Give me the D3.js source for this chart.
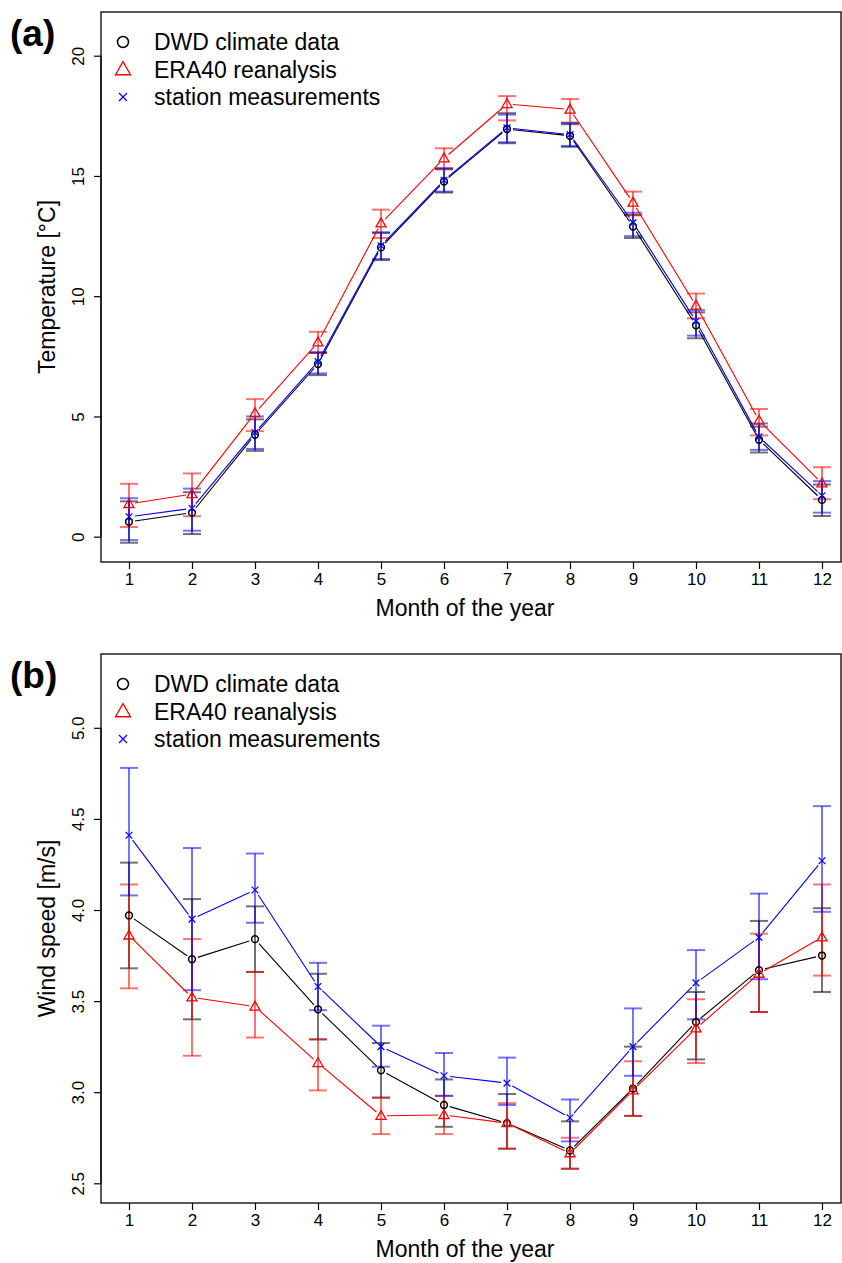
<!DOCTYPE html>
<html>
<head>
<meta charset="utf-8">
<script src="https://cdn.jsdelivr.net/npm/d3@7"></script>
<style>
  body { margin: 0; background: #fff; }
  text { font-family: "Liberation Sans", Arial, sans-serif; }
</style>
</head>
<body>
<svg id="chart" width="842" height="1263"></svg>
<script>
'use strict';

const months = [1, 2, 3, 4, 5, 6, 7, 8, 9, 10, 11, 12];
const seriesNames = ['DWD climate data', 'ERA40 reanalysis', 'station measurements'];

// (a) temperature
const tempTicks = [0, 5, 10, 15, 20];
const tempDwd    = [0.62, 1.00, 4.24, 7.18, 12.03, 14.77, 16.95, 16.67, 12.90, 8.79, 4.03, 1.53];
const tempDwdLo  = [-0.25, 0.11, 3.57, 6.72, 11.50, 14.31, 16.36, 16.21, 12.42, 8.25, 3.50, 0.86];
const tempDwdHi  = [1.47, 1.85, 4.88, 7.64, 12.63, 15.29, 17.61, 17.15, 13.38, 9.33, 4.58, 2.17];
const tempEra    = [1.36, 1.77, 5.14, 8.08, 13.03, 15.73, 17.99, 17.76, 13.89, 9.61, 4.83, 2.22];
const tempEraLo  = [0.40, 0.85, 4.39, 7.64, 12.42, 15.27, 17.31, 17.22, 13.36, 9.08, 4.21, 1.56];
const tempEraHi  = [2.20, 2.63, 5.72, 8.52, 13.60, 16.15, 18.32, 18.20, 14.35, 10.11, 5.31, 2.89];
const tempSta    = [0.83, 1.18, 4.33, 7.28, 12.10, 14.82, 17.00, 16.72, 13.06, 8.96, 4.15, 1.70];
const tempStaLo  = [-0.14, 0.25, 3.65, 6.79, 11.55, 14.35, 16.40, 16.25, 12.50, 8.36, 3.61, 1.00];
const tempStaHi  = [1.60, 2.00, 5.00, 7.68, 12.66, 15.33, 17.55, 17.20, 13.47, 9.42, 4.71, 2.31];

// (b) wind speed
const windTicks = [2.5, 3.0, 3.5, 4.0, 4.5, 5.0];
const windDwd    = [3.97, 3.73, 3.84, 3.455, 3.12, 2.93, 2.83, 2.68, 3.02, 3.385, 3.67, 3.75];
const windDwdLo  = [3.68, 3.40, 3.66, 3.29, 2.97, 2.81, 2.69, 2.58, 2.87, 3.18, 3.44, 3.55];
const windDwdHi  = [4.26, 4.06, 4.02, 3.65, 3.27, 3.07, 2.99, 2.84, 3.25, 3.55, 3.94, 4.01];
const windEra    = [3.86, 3.52, 3.47, 3.16, 2.87, 2.875, 2.83, 2.665, 3.01, 3.35, 3.65, 3.85];
const windEraLo  = [3.57, 3.20, 3.30, 3.01, 2.77, 2.77, 2.69, 2.58, 2.87, 3.16, 3.44, 3.64];
const windEraHi  = [4.14, 3.84, 3.66, 3.29, 2.97, 2.98, 2.94, 2.75, 3.17, 3.51, 3.87, 4.14];
const windSta    = [4.41, 3.95, 4.11, 3.58, 3.25, 3.09, 3.05, 2.86, 3.25, 3.60, 3.85, 4.27];
const windStaLo  = [4.08, 3.56, 3.93, 3.45, 3.14, 2.98, 2.93, 2.73, 3.09, 3.40, 3.62, 3.99];
const windStaHi  = [4.78, 4.34, 4.31, 3.71, 3.365, 3.215, 3.19, 2.96, 3.46, 3.78, 4.09, 4.57];

const colors = { black: '#000000', red: '#ff0000', blue: '#0000ff' };

const svg = d3.select('#chart');
const x = d3.scaleLinear().domain([1, 12]).range([129, 822]);

function marker(g, type, cx, cy, size, color) {
  if (type === 'circle') {
    g.append('circle').attr('cx', cx).attr('cy', cy).attr('r', size)
      .attr('fill', 'none').attr('stroke', color).attr('stroke-width', 1.5);
  } else if (type === 'triangle') {
    const h = size * 1.75;
    g.append('path')
      .attr('d', `M${cx},${cy - h * 0.6}L${cx + size},${cy + h * 0.4}L${cx - size},${cy + h * 0.4}Z`)
      .attr('fill', 'none').attr('stroke', color).attr('stroke-width', 1.3);
  } else {
    const s = size * 0.75;
    g.append('path')
      .attr('d', `M${cx - s},${cy - s}L${cx + s},${cy + s}M${cx - s},${cy + s}L${cx + s},${cy - s}`)
      .attr('fill', 'none').attr('stroke', color).attr('stroke-width', 1.2);
  }
}

function drawPanel(cfg) {
  const y = d3.scaleLinear().domain(cfg.domain).range(cfg.range);
  const g = svg.append('g');

  // frame
  g.append('rect').attr('x', 101).attr('y', cfg.top).attr('width', 740).attr('height', cfg.bottom - cfg.top)
    .attr('fill', 'none').attr('stroke', '#000').attr('stroke-width', 1.3);

  // x axis
  const xa = g.append('g').attr('transform', `translate(0,${cfg.bottom})`)
    .call(d3.axisBottom(x).tickValues(months).tickSize(7).tickPadding(4).tickFormat(d3.format('d')));
  xa.select('.domain').remove();
  xa.selectAll('line').attr('stroke-width', 1.2);
  xa.selectAll('text').attr('font-size', 17).attr('font-family', '"Liberation Sans", Arial, sans-serif').attr('fill', '#000');

  // y axis
  const ya = g.append('g').attr('transform', 'translate(101,0)')
    .call(d3.axisLeft(y).tickValues(cfg.ticks).tickSize(7).tickFormat(cfg.fmt));
  ya.select('.domain').attr('d', `M0,${y(cfg.ticks[0])}V${y(cfg.ticks[cfg.ticks.length - 1])}`).attr('stroke-width', 1.2);
  ya.selectAll('line').attr('stroke-width', 1.2);
  ya.selectAll('text')
    .attr('font-size', 17).attr('font-family', '"Liberation Sans", Arial, sans-serif').attr('fill', '#000')
    .attr('text-anchor', 'middle').attr('x', 0).attr('dy', 0)
    .attr('transform', 'translate(-17,0) rotate(-90)');

  g.append('text').attr('x', 465).attr('y', cfg.bottom + 54).attr('text-anchor', 'middle')
    .attr('font-size', 23).text('Month of the year');
  g.append('text').attr('transform', `translate(55,${(cfg.top + cfg.bottom) / 2}) rotate(-90)`)
    .attr('text-anchor', 'middle').attr('font-size', 23).text(cfg.ylabel);
  g.append('text').attr('x', 10).attr('y', cfg.top + 34).attr('font-size', 37).attr('font-weight', 'bold')
    .text(cfg.tag);

  const series = [
    { mean: cfg.dwd, lo: cfg.dwdLo, hi: cfg.dwdHi, color: colors.black, type: 'circle', size: 3.4 },
    { mean: cfg.era, lo: cfg.eraLo, hi: cfg.eraHi, color: colors.red, type: 'triangle', size: 5 },
    { mean: cfg.sta, lo: cfg.staLo, hi: cfg.staHi, color: colors.blue, type: 'x', size: 4.5 }
  ];

  // error bars
  series.forEach(s => {
    const eb = g.append('g').attr('stroke', s.color).attr('stroke-opacity', 0.55).attr('stroke-width', 2).attr('fill', 'none');
    months.forEach((m, i) => {
      const cx = x(m);
      eb.append('line').attr('x1', cx).attr('x2', cx).attr('y1', y(s.lo[i])).attr('y2', y(s.hi[i]));
      eb.append('line').attr('x1', cx - 9).attr('x2', cx + 9).attr('y1', y(s.lo[i])).attr('y2', y(s.lo[i]));
      eb.append('line').attr('x1', cx - 9).attr('x2', cx + 9).attr('y1', y(s.hi[i])).attr('y2', y(s.hi[i]));
    });
  });

  // lines with gaps around points (type "b")
  const gap = 6;
  series.forEach(s => {
    const lg = g.append('g').attr('stroke', s.color).attr('stroke-width', 1.1);
    for (let i = 0; i < months.length - 1; i++) {
      const x1 = x(months[i]), y1 = y(s.mean[i]);
      const x2 = x(months[i + 1]), y2 = y(s.mean[i + 1]);
      const len = Math.hypot(x2 - x1, y2 - y1);
      const ux = (x2 - x1) / len, uy = (y2 - y1) / len;
      lg.append('line')
        .attr('x1', x1 + ux * gap).attr('y1', y1 + uy * gap)
        .attr('x2', x2 - ux * gap).attr('y2', y2 - uy * gap);
    }
  });

  // points
  series.forEach(s => {
    const pg = g.append('g');
    months.forEach((m, i) => marker(pg, s.type, x(m), y(s.mean[i]), s.size, s.color));
  });

  // legend
  const lgd = g.append('g');
  series.forEach((s, i) => {
    const ly = cfg.top + 30 + i * 27.5;
    marker(lgd, s.type, 123, ly, s.type === 'circle' ? 5.5 : (s.type === 'triangle' ? 7.5 : 5.3), s.color);
    lgd.append('text').attr('x', 154).attr('y', ly).attr('dy', '0.35em').attr('font-size', 23).text(seriesNames[i]);
  });
}

drawPanel({
  top: 12, bottom: 562, domain: [0, 20], range: [536.7, 55.7], ticks: tempTicks, fmt: d3.format('d'),
  ylabel: 'Temperature [°C]', tag: '(a)',
  dwd: tempDwd, dwdLo: tempDwdLo, dwdHi: tempDwdHi,
  era: tempEra, eraLo: tempEraLo, eraHi: tempEraHi,
  sta: tempSta, staLo: tempStaLo, staHi: tempStaHi
});

drawPanel({
  top: 654, bottom: 1203, domain: [2.5, 5.0], range: [1183.3, 727.8], ticks: windTicks, fmt: d3.format('.1f'),
  ylabel: 'Wind speed [m/s]', tag: '(b)',
  dwd: windDwd, dwdLo: windDwdLo, dwdHi: windDwdHi,
  era: windEra, eraLo: windEraLo, eraHi: windEraHi,
  sta: windSta, staLo: windStaLo, staHi: windStaHi
});
</script>
</body>
</html>
